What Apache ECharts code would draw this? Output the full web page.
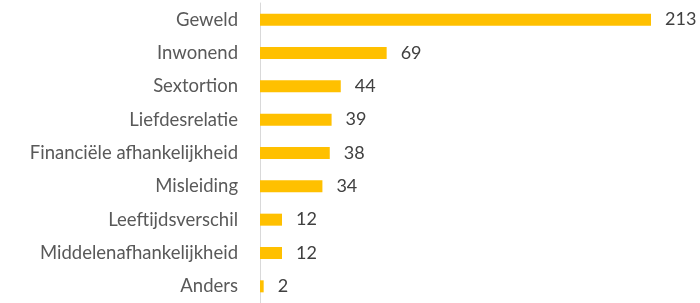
<!DOCTYPE html>
<html>
<head>
<meta charset="utf-8">
<script src="https://cdn.jsdelivr.net/npm/echarts@6/dist/echarts.min.js"></script>
<style>
  html, body { margin: 0; padding: 0; background: #fff; }
  #chart { width: 700px; height: 303px; }
</style>
</head>
<body>
<div id="chart"></div>
<script>
var categories = ['Geweld', 'Inwonend', 'Sextortion', 'Liefdesrelatie', 'Financiële afhankelijkheid',
                  'Misleiding', 'Leeftijdsverschil', 'Middelenafhankelijkheid', 'Anders'];
var counts = [213, 69, 44, 39, 38, 34, 12, 12, 2];

var chart = echarts.init(document.getElementById('chart'));

chart.setOption({
  animation: false,
  grid: { left: 260, right: 49, top: 3, bottom: -5 },
  xAxis: {
    type: 'value',
    min: 0,
    max: 213,
    show: false
  },
  yAxis: {
    type: 'category',
    inverse: true,
    data: categories,
    axisTick: { show: false },
    axisLine: { show: true, lineStyle: { color: '#d9d9d9', width: 1 } },
    axisLabel: {
      margin: 22,
      color: '#595959',
      fontSize: 18.5,
      fontFamily: 'Lato'
    }
  },
  series: [{
    type: 'bar',
    data: counts,
    barWidth: 12,
    itemStyle: { color: '#FFC000' },
    label: {
      show: true,
      position: 'right',
      distance: 14,
      color: '#404040',
      fontSize: 18,
      fontFamily: 'Lato'
    }
  }]
});
</script>
</body>
</html>
